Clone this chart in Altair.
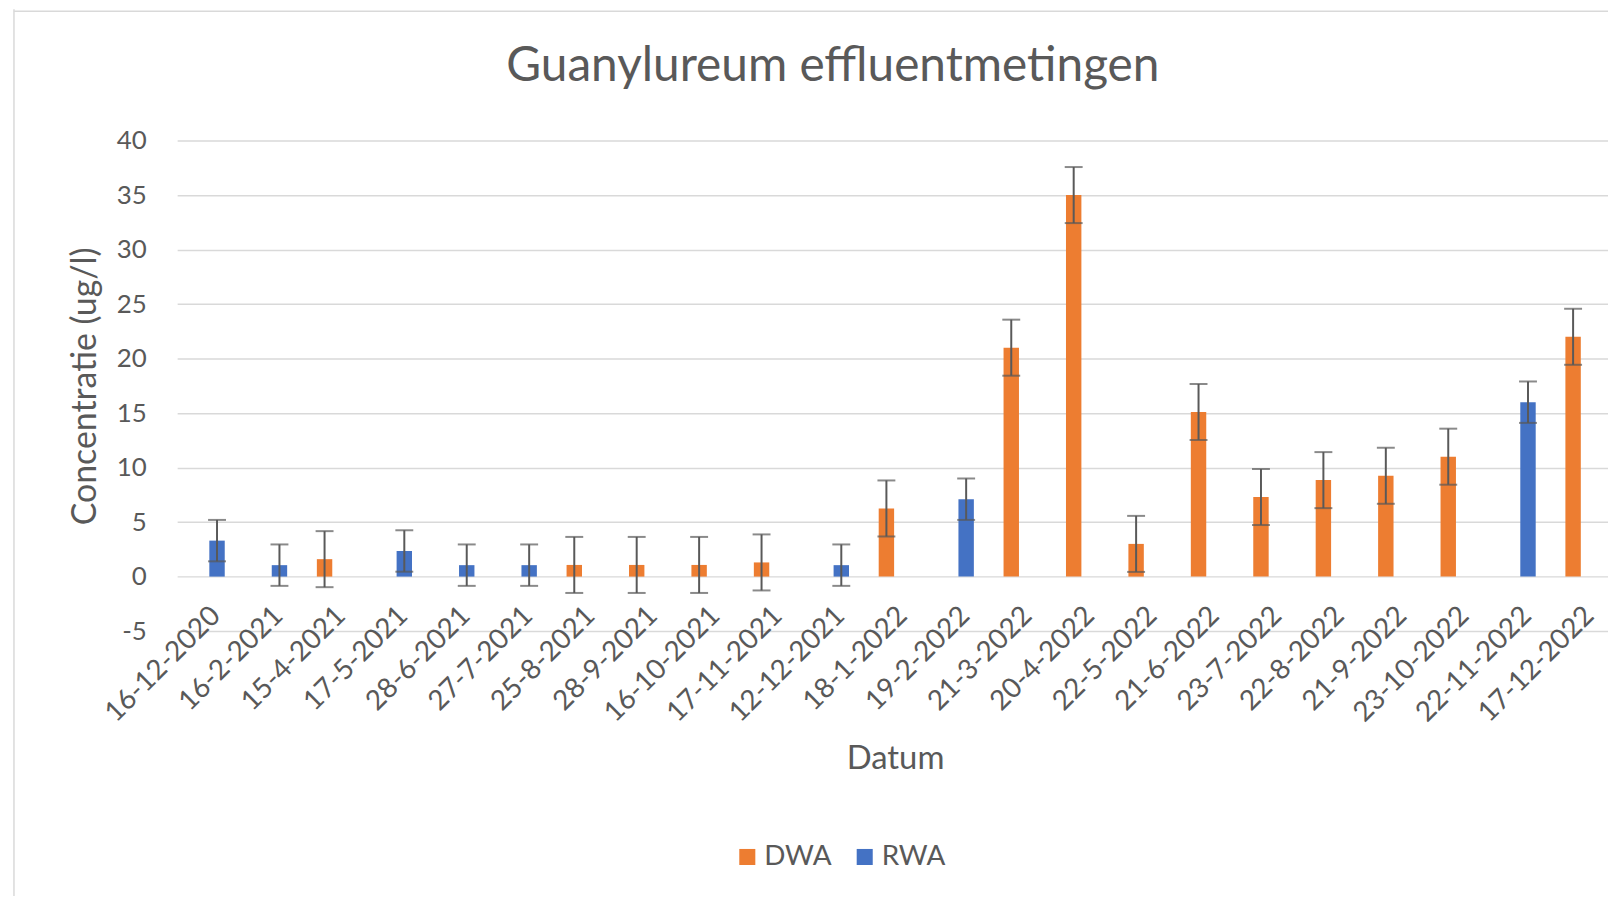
import altair as alt
import pandas as pd

# ---- data ----
datums = ["16-12-2020", "16-2-2021", "15-4-2021", "17-5-2021", "28-6-2021",
          "27-7-2021", "25-8-2021", "28-9-2021", "16-10-2021", "17-11-2021",
          "12-12-2021", "18-1-2022", "19-2-2022", "21-3-2022", "20-4-2022",
          "22-5-2022", "21-6-2022", "23-7-2022", "22-8-2022", "21-9-2022",
          "23-10-2022", "22-11-2022", "17-12-2022"]
reeks = ["RWA", "RWA", "DWA", "RWA", "RWA",
         "RWA", "DWA", "DWA", "DWA", "DWA",
         "RWA", "DWA", "RWA", "DWA", "DWA",
         "DWA", "DWA", "DWA", "DWA", "DWA",
         "DWA", "RWA", "DWA"]
waarden = [3.3, 1.05, 1.6, 2.35, 1.05,
           1.05, 1.07, 1.07, 1.07, 1.3,
           1.05, 6.25, 7.1, 21.0, 35.0,
           3.0, 15.1, 7.3, 8.85, 9.25,
           11.0, 16.0, 22.0]
fouten = {"DWA": 2.57, "RWA": 1.9}

series = ["DWA", "RWA"]
kleuren = ["#ED7D31", "#4472C4"]
y_ticks = [-5, 0, 5, 10, 15, 20, 25, 30, 35, 40]
titel = "Guanylureum effluentmetingen"

df = pd.DataFrame({"Datum": datums, "Reeks": reeks, "Waarde": waarden})
df["lo"] = df["Waarde"] - df["Reeks"].map(fouten)
df["hi"] = df["Waarde"] + df["Reeks"].map(fouten)

FONT = "Lato"
GREY = "#595959"

x_enc = alt.X("Datum:N", sort=datums,
              scale=alt.Scale(paddingInner=0, paddingOuter=0),
              axis=alt.Axis(title="Datum", labelAngle=-45, labelAlign="right",
                            labelBaseline="middle", offset=-55, domain=False,
                            ticks=False, tickSize=0, grid=False, labelPadding=35,
                            labelOffset=8, labelFontSize=28, labelColor=GREY,
                            labelFont=FONT, titleFont=FONT, titleFontSize=33,
                            titleFontWeight="normal", titleColor=GREY,
                            titleY=183, titleBaseline="middle"))
xo_enc = alt.XOffset("Reeks:N", scale=alt.Scale(domain=series, paddingInner=0.11,
                                               paddingOuter=0.857))
y_scale = alt.Scale(domain=[-5, 40], nice=False, zero=False)
y_enc = alt.Y("Waarde:Q", scale=y_scale,
              axis=alt.Axis(title="Concentratie (ug/l)", values=y_ticks,
                            labelExpr="'' + datum.value",
                            domain=False, ticks=False, tickSize=0, labelPadding=31,
                            labelFontSize=26, labelColor=GREY, labelFont=FONT,
                            gridColor="#d9d9d9", gridWidth=1.5,
                            titleFont=FONT, titleFontSize=34, titleFontWeight="normal",
                            titleColor=GREY, titleX=-92, titleBaseline="middle",
                            titleAngle=-90))

base = alt.Chart(df)

bars = base.mark_bar().encode(
    x=x_enc, xOffset=xo_enc, y=y_enc,
    color=alt.Color("Reeks:N", scale=alt.Scale(domain=series, range=kleuren),
                    legend=alt.Legend(title=None, orient="none", direction="horizontal",
                                      legendX=559, legendY=706, symbolType="square",
                                      symbolSize=260, symbolStrokeWidth=0,
                                      labelFontSize=28, labelFont=FONT, labelColor=GREY,
                                      labelOffset=3, columnPadding=19)),
)

err = base.mark_rule(color=GREY, strokeWidth=2).encode(
    x=alt.X("Datum:N", sort=datums), xOffset=alt.XOffset("Reeks:N"),
    y=alt.Y("lo:Q", scale=y_scale), y2="hi:Q")
cap_lo = base.mark_tick(color=GREY, thickness=2, size=18, orient="horizontal").encode(
    x=alt.X("Datum:N", sort=datums), xOffset=alt.XOffset("Reeks:N"),
    y=alt.Y("lo:Q", scale=y_scale))
cap_hi = base.mark_tick(color=GREY, thickness=2, size=18, orient="horizontal").encode(
    x=alt.X("Datum:N", sort=datums), xOffset=alt.XOffset("Reeks:N"),
    y=alt.Y("hi:Q", scale=y_scale))

frame_df = pd.DataFrame({"titel": [titel]})
frame_left = alt.Chart(frame_df).mark_rule(color="#d9d9d9", strokeWidth=1.5).encode(
    x=alt.value(-164), y=alt.value(-132), y2=alt.value(770))
frame_top = alt.Chart(frame_df).mark_rule(color="#d9d9d9", strokeWidth=1.5).encode(
    x=alt.value(-164), x2=alt.value(1460), y=alt.value(-130))
title_text = alt.Chart(frame_df).mark_text(
    font=FONT, fontSize=48, color=GREY, align="center", baseline="middle"
).encode(text="titel:N", x=alt.value(659), y=alt.value(-74))

chart = alt.layer(frame_left, frame_top, title_text, bars, err, cap_lo, cap_hi).properties(
    width=1443, height=493,
    autosize=alt.AutoSizeParams(type="none"),
    padding={"left": 170, "top": 131, "right": -5, "bottom": 264},
).configure_view(stroke=None)

chart.save("out.html", embed_options={"renderer": "svg", "actions": False})
